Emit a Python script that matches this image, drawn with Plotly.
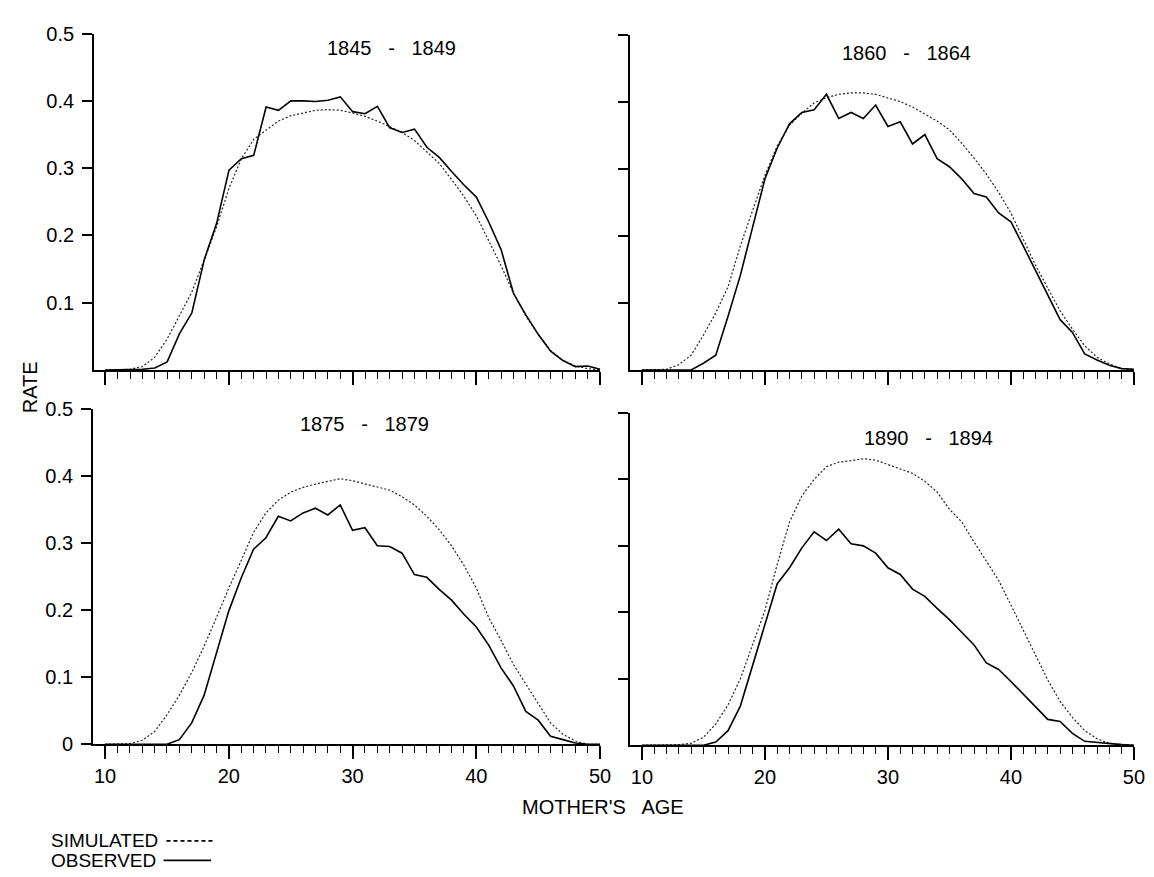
import plotly.graph_objects as go

# ---------------- data ----------------
ages = list(range(10, 51))

obs_1845 = [0, 0, 0, 0.001, 0.003, 0.012, 0.054, 0.085, 0.164, 0.218,
            0.297, 0.314, 0.319, 0.391, 0.386, 0.400, 0.400, 0.399, 0.401, 0.406,
            0.384, 0.381, 0.392, 0.360, 0.353, 0.358, 0.331, 0.316, 0.295, 0.275,
            0.257, 0.220, 0.179, 0.114, 0.082, 0.053, 0.028, 0.014, 0.005, 0.006,
            0.001]
sim_1845 = [0, 0, 0.001, 0.005, 0.019, 0.046, 0.080, 0.116, 0.164, 0.213,
            0.270, 0.314, 0.343, 0.357, 0.370, 0.378, 0.382, 0.386, 0.387, 0.386,
            0.382, 0.377, 0.370, 0.361, 0.353, 0.341, 0.324, 0.307, 0.283, 0.258,
            0.229, 0.193, 0.155, 0.114, 0.080, 0.053, 0.029, 0.014, 0.006, 0.002,
            0]

obs_1860 = [0, 0, 0, 0, 0, 0.010, 0.022, 0.080, 0.141, 0.213,
            0.285, 0.331, 0.367, 0.384, 0.388, 0.411, 0.375, 0.384, 0.375, 0.395,
            0.363, 0.370, 0.337, 0.351, 0.315, 0.303, 0.285, 0.263, 0.258, 0.234,
            0.221, 0.185, 0.148, 0.112, 0.075, 0.056, 0.024, 0.015, 0.007, 0.002,
            0.001]
sim_1860 = [0, 0, 0.001, 0.008, 0.022, 0.052, 0.085, 0.124, 0.185, 0.238,
            0.290, 0.334, 0.365, 0.383, 0.398, 0.406, 0.411, 0.413, 0.413, 0.411,
            0.406, 0.400, 0.392, 0.382, 0.371, 0.358, 0.338, 0.316, 0.292, 0.265,
            0.234, 0.195, 0.156, 0.122, 0.088, 0.061, 0.036, 0.019, 0.009, 0.002,
            0.001]

obs_1875 = [0, 0, 0, 0, 0, 0, 0.007, 0.032, 0.073, 0.136,
            0.199, 0.248, 0.291, 0.308, 0.340, 0.333, 0.345, 0.352, 0.342, 0.357,
            0.319, 0.323, 0.296, 0.295, 0.285, 0.253, 0.249, 0.231, 0.215, 0.194,
            0.175, 0.148, 0.114, 0.087, 0.049, 0.036, 0.012, 0.007, 0.002, 0,
            0]
sim_1875 = [0, 0, 0.001, 0.006, 0.019, 0.044, 0.073, 0.107, 0.146, 0.189,
            0.233, 0.274, 0.316, 0.345, 0.364, 0.376, 0.383, 0.388, 0.392, 0.396,
            0.393, 0.388, 0.383, 0.379, 0.369, 0.357, 0.340, 0.320, 0.296, 0.267,
            0.233, 0.189, 0.155, 0.119, 0.090, 0.061, 0.032, 0.015, 0.005, 0,
            0]

obs_1890 = [0, 0, 0, 0, 0, 0, 0.005, 0.022, 0.059, 0.120,
            0.184, 0.243, 0.267, 0.297, 0.321, 0.308, 0.325, 0.303, 0.300, 0.289,
            0.267, 0.257, 0.235, 0.224, 0.206, 0.189, 0.170, 0.151, 0.124, 0.114,
            0.096, 0.077, 0.058, 0.039, 0.036, 0.018, 0.006, 0.004, 0.002, 0.001,
            0]
sim_1890 = [0, 0, 0, 0.001, 0.003, 0.012, 0.032, 0.061, 0.100, 0.150,
            0.203, 0.272, 0.336, 0.375, 0.400, 0.419, 0.426, 0.428, 0.431, 0.429,
            0.422, 0.415, 0.409, 0.397, 0.381, 0.355, 0.336, 0.306, 0.277, 0.248,
            0.211, 0.174, 0.135, 0.098, 0.066, 0.042, 0.022, 0.010, 0.003, 0.001,
            0]

panel_titles = ["1845   -   1849", "1860   -   1864", "1875   -   1879", "1890   -   1894"]
observed = [obs_1845, obs_1860, obs_1875, obs_1890]
simulated = [sim_1845, sim_1860, sim_1875, sim_1890]
title_pos = [(33.1, 0.478), (31.5, 0.472), (31.0, 0.477), (33.3, 0.462)]

x_ticks = [10, 20, 30, 40, 50]
y_ticks = [0.1, 0.2, 0.3, 0.4, 0.5]
y_labels = ["0.1", "0.2", "0.3", "0.4", "0.5"]
y_ticks_bl = [0, 0.1, 0.2, 0.3, 0.4, 0.5]
y_labels_bl = ["0", "0.1", "0.2", "0.3", "0.4", "0.5"]

# ---------------- layout geometry (pixels of 1154x877) ----------------
W, H = 1154, 877
FONT = "Liberation Sans"

def xd(a, b):
    return [a / W, b / W]

def yd(top, bottom):
    return [1 - bottom / H, 1 - top / H]

panels = [
    dict(xdom=xd(87, 598), ydom=yd(15, 360), xr=[9.1, 50.02], xlab=False, ylab="top"),
    dict(xdom=xd(628, 1137), ydom=yd(16, 360), xr=[9.03, 50.02], xlab=False, ylab="none"),
    dict(xdom=xd(86, 598), ydom=yd(400, 744), xr=[9.04, 50.02], xlab=True, ylab="full"),
    dict(xdom=xd(628, 1137), ydom=yd(404, 745), xr=[9.03, 50.02], xlab=True, ylab="none"),
]

fig = go.Figure()
layout = dict(
    width=W, height=H,
    margin=dict(l=0, r=0, t=0, b=0),
    paper_bgcolor="white", plot_bgcolor="white",
    showlegend=False,
    font=dict(family=FONT, color="black"),
)

annotations = []
for i, p in enumerate(panels):
    n = "" if i == 0 else str(i + 1)
    xa, ya = "x" + n, "y" + n
    fig.add_trace(go.Scatter(x=ages, y=simulated[i], mode="lines", xaxis=xa, yaxis=ya,
                             line=dict(color="#222222", width=1.2, dash="2px,2px")))
    fig.add_trace(go.Scatter(x=ages, y=observed[i], mode="lines", xaxis=xa, yaxis=ya,
                             line=dict(color="black", width=1.6)))
    xaxis = dict(domain=p["xdom"], range=p["xr"], anchor=ya,
                 showline=True, linecolor="black", linewidth=2,
                 showgrid=False, zeroline=False,
                 ticks="outside", ticklen=13, tickwidth=1.6, tickcolor="black",
                 tickmode="array", tickvals=x_ticks,
                 ticktext=[str(v) for v in x_ticks],
                 showticklabels=p["xlab"], tickfont=dict(size=20, family=FONT),
                 minor=dict(tickmode="array", tickvals=ages, ticks="outside",
                            ticklen=7, tickwidth=1.3, tickcolor="black", showgrid=False))
    if p["ylab"] == "full":
        yv, yt, show = y_ticks_bl, y_labels_bl, True
    elif p["ylab"] == "top":
        yv, yt, show = y_ticks, y_labels, True
    else:
        yv, yt, show = y_ticks, y_labels, False
    yaxis = dict(domain=p["ydom"], range=[0, 0.5], anchor=xa,
                 showline=True, linecolor="black", linewidth=2,
                 showgrid=False, zeroline=False,
                 ticks="outside", ticklen=10, tickwidth=1.6, tickcolor="black",
                 tickmode="array", tickvals=yv, ticktext=yt, ticklabelstandoff=4,
                 showticklabels=show, tickfont=dict(size=20, family=FONT))
    layout["xaxis" + n] = xaxis
    layout["yaxis" + n] = yaxis
    tx, ty = title_pos[i]
    annotations.append(dict(text=panel_titles[i], x=tx, y=ty, xref=xa, yref=ya,
                            showarrow=False, xanchor="center", yanchor="middle",
                            font=dict(size=20, family=FONT)))

# axis titles
annotations.append(dict(text="MOTHER'S   AGE", x=601 / W, y=1 - 808 / H, xref="paper", yref="paper",
                        showarrow=False, xanchor="center", yanchor="middle",
                        font=dict(size=20, family=FONT)))
annotations.append(dict(text="RATE", x=22 / W, y=1 - 378 / H, xref="paper", yref="paper",
                        showarrow=False, xanchor="center", yanchor="middle", textangle=-90,
                        font=dict(size=20, family=FONT)))
# legend text
annotations.append(dict(text="SIMULATED", x=41 / W, y=1 - 843 / H, xref="paper", yref="paper",
                        showarrow=False, xanchor="left", yanchor="middle",
                        font=dict(size=19, family=FONT)))
annotations.append(dict(text="OBSERVED", x=41 / W, y=1 - 863 / H, xref="paper", yref="paper",
                        showarrow=False, xanchor="left", yanchor="middle",
                        font=dict(size=19, family=FONT)))
layout["annotations"] = annotations
layout["shapes"] = [
    dict(type="line", xref="paper", yref="paper", x0=160 / W, x1=208 / W,
         y0=1 - 843 / H, y1=1 - 843 / H, line=dict(color="black", width=1.6, dash="4px,3px")),
    dict(type="line", xref="paper", yref="paper", x0=157 / W, x1=205 / W,
         y0=1 - 863 / H, y1=1 - 863 / H, line=dict(color="black", width=1.6)),
]

fig.update_layout(**layout)
fig.write_html("out.html")
